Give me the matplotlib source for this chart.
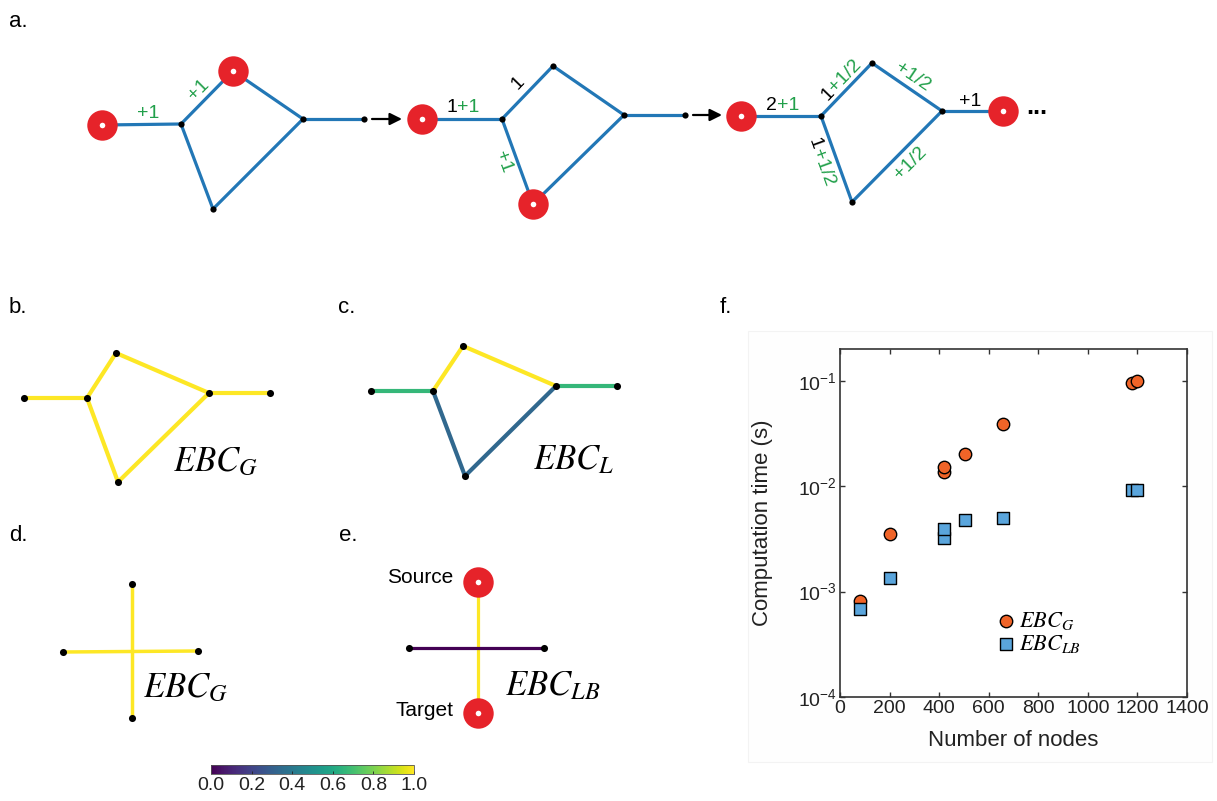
import numpy as np
import matplotlib
matplotlib.use('Agg')
import matplotlib.pyplot as plt
from matplotlib.collections import LineCollection
from matplotlib.colors import Normalize
from matplotlib.cm import ScalarMappable
from matplotlib.ticker import NullLocator, FixedLocator, LogFormatterSciNotation
from matplotlib.patches import Rectangle

plt.rcParams['font.family'] = ['Liberation Sans', 'DejaVu Sans']

W, H = 1217, 801

# ---------------- data ----------------
# panel a: three snapshots of the same 6-node graph (layout in figure pixels)
a_node_x = [[102, 181, 233, 303, 213, 364],
            [422, 502, 553, 624, 533, 685],
            [741, 821, 872, 942, 852, 1003]]
a_node_y = [[125, 124, 71, 119, 209, 119],
            [119, 119, 66, 115, 204, 115],
            [116, 116, 63, 111, 202, 111]]
a_edges = [(0, 1), (1, 2), (2, 3), (1, 4), (4, 3), (3, 5)]
a_red = [[0, 2], [0, 4], [0, 5]]
# edge labels: x, y, black part, green part, rotation (deg)
a_labels = [
    (148, 114, '', '+1', 0),
    (199, 90, '', '+1', 45),
    (457, 108, '1', '+1', 0),
    (518, 83, '1', '', 46),
    (503, 162, '', '+1', -70),
    (777, 105, '2', '+1', 0),
    (832, 90, '1', '+1/2', 46),
    (913, 77, '', '+1/2', -34),
    (816, 149, '1', '+1/2', -70),
    (910, 163, '', '+1/2', 45),
    (970, 102, '+1', '', 0),
]
a_arrows = [(372, 402, 119), (693, 722, 115)]

# panel b / c: same graph, EBC_G and EBC_L values
bc_edges = [(0, 1), (1, 2), (2, 3), (3, 4), (1, 5), (5, 3)]
b_node_x = [24, 87, 116, 209, 270, 118]
b_node_y = [398, 398, 353, 393, 393, 482]
b_values = [1, 1, 1, 1, 1, 1]
c_node_x = [371, 433, 463, 556, 617, 465]
c_node_y = [391, 391, 346, 386, 386, 476]
c_values = [2/3, 1, 1, 2/3, 1/3, 1/3]

# panel d / e: two crossing edges
de_edges = [(0, 1), (2, 3)]
d_node_x = [132, 132, 63, 198]
d_node_y = [584, 718, 652, 651]
d_values = [1, 1]
e_node_x = [478, 478, 409, 544]
e_node_y = [582, 713, 648, 648]
e_values = [1, 0]
e_red = [0, 1]

# panel f: computation time
f_nodes = [81, 202, 420, 420, 504, 658, 1178, 1198]
f_time_G = [8.2e-4, 3.5e-3, 1.35e-2, 1.51e-2, 2.0e-2, 3.85e-2, 9.6e-2, 1.0e-1]
f_time_LB = [6.9e-4, 1.35e-3, 3.2e-3, 3.9e-3, 4.8e-3, 5.0e-3, 9.2e-3, 9.1e-3]
f_xticks = [0, 200, 400, 600, 800, 1000, 1200, 1400]
f_yticks = [1e-4, 1e-3, 1e-2, 1e-1]
cb_ticks = [0.0, 0.2, 0.4, 0.6, 0.8, 1.0]

# ---------------- styles ----------------
BLUE_EDGE = '#2277B6'
GREEN = '#22A04B'
RED = '#E6232A'
ORANGE = '#F06428'
LBLUE = '#5AA5DC'
cmap = plt.get_cmap('viridis')
norm = Normalize(0, 1)

fig = plt.figure(figsize=(W / 100, H / 100), dpi=100)
ax0 = fig.add_axes([0, 0, 1, 1])
ax0.set_xlim(0, W)
ax0.set_ylim(H, 0)
ax0.axis('off')

# faint frame behind panel f
ax0.add_patch(Rectangle((748, 331), 464, 431, fc='#fefefe', ec='#f3f3f3', lw=0.8, zorder=0))


def segments(xs, ys, edges):
    return [[(xs[i], ys[i]), (xs[j], ys[j])] for i, j in edges]


def red_nodes(xs, ys):
    ax0.scatter(xs, ys, s=480, c=RED, linewidths=0, zorder=4)
    ax0.scatter(xs, ys, s=16, c='white', linewidths=0, zorder=5)


# ---- panel a ----
for xs, ys, reds in zip(a_node_x, a_node_y, a_red):
    ax0.add_collection(LineCollection(segments(xs, ys, a_edges), colors=BLUE_EDGE,
                                      linewidths=2.3, zorder=2, capstyle='round'))
    blk = [k for k in range(len(xs)) if k not in reds]
    ax0.scatter([xs[k] for k in blk], [ys[k] for k in blk], s=20, c='black', zorder=3, linewidths=0)
    red_nodes([xs[k] for k in reds], [ys[k] for k in reds])

for x, y, blk, grn, rot in a_labels:
    kw = dict(va='center', rotation=rot, rotation_mode='anchor', fontsize=14)
    if blk and grn:
        ax0.text(x, y, blk, color='black', ha='right', **kw)
        ax0.text(x, y, grn, color=GREEN, ha='left', **kw)
    elif blk:
        ax0.text(x, y, blk, color='black', ha='center', **kw)
    else:
        ax0.text(x, y, grn, color=GREEN, ha='center', **kw)

for x0, x1, y in a_arrows:
    ax0.annotate('', xy=(x1, y), xytext=(x0, y),
                 arrowprops=dict(arrowstyle='-|>', color='black', lw=1.6,
                                 mutation_scale=18, shrinkA=0, shrinkB=0))
ax0.text(1026, 114, '...', fontsize=18, fontweight='bold', ha='left', va='baseline')

# ---- panels b-e ----
for xs, ys, edges, vals, lw in [(b_node_x, b_node_y, bc_edges, b_values, 3.0),
                                (c_node_x, c_node_y, bc_edges, c_values, 3.0),
                                (d_node_x, d_node_y, de_edges, d_values, 2.5),
                                (e_node_x, e_node_y, de_edges, e_values, 2.3)]:
    lc = LineCollection(segments(xs, ys, edges), cmap=cmap, norm=norm, linewidths=lw, zorder=2)
    lc.set_array(np.asarray(vals, dtype=float))
    ax0.add_collection(lc)

for xs, ys in [(b_node_x, b_node_y), (c_node_x, c_node_y), (d_node_x, d_node_y)]:
    ax0.scatter(xs, ys, s=26, c='black', zorder=3, linewidths=0)
ax0.scatter([e_node_x[k] for k in range(4) if k not in e_red],
            [e_node_y[k] for k in range(4) if k not in e_red], s=26, c='black', zorder=3, linewidths=0)
red_nodes([e_node_x[k] for k in e_red], [e_node_y[k] for k in e_red])

ax0.text(453, 583, 'Source', fontsize=15, ha='right', va='baseline')
ax0.text(453, 716, 'Target', fontsize=15, ha='right', va='baseline')

for x, y, s in [(173, 471, r'$EBC_G$'), (533, 469, r'$EBC_L$'),
                (143, 697, r'$EBC_G$'), (505, 695, r'$EBC_{LB}$')]:
    ax0.text(x, y, s, fontsize=25, ha='left', va='baseline', math_fontfamily='stix')

# panel letters
for x, y, s in [(9, 27, 'a.'), (9, 313, 'b.'), (338, 313, 'c.'),
                (9, 541, 'd.'), (339, 541, 'e.'), (720, 313, 'f.')]:
    ax0.text(x, y, s, fontsize=16, ha='left', va='baseline')

# ---- colorbar ----
cax = fig.add_axes([211 / W, 1 - 774 / H, 203 / W, 9 / H])
sm = ScalarMappable(norm=norm, cmap=cmap)
cb = fig.colorbar(sm, cax=cax, orientation='horizontal', ticks=cb_ticks, format='%.1f')
cb.ax.tick_params(direction='in', length=2.5, width=0.6, labelsize=14, pad=2, colors='#222222')
cb.outline.set_linewidth(0.6)
cb.outline.set_edgecolor('#555555')

# ---- panel f ----
ax = fig.add_axes([840 / W, 1 - 697 / H, 347 / W, 348 / H])
ax.scatter(f_nodes, f_time_G, s=80, marker='o', c=ORANGE, edgecolors='black',
           linewidths=1.0, zorder=3, label=r'$EBC_G$')
ax.scatter(f_nodes, f_time_LB, s=70, marker='s', c=LBLUE, edgecolors='black',
           linewidths=1.0, zorder=4, label=r'$EBC_{LB}$')
ax.set_yscale('log')
ax.set_xlim(0, 1400)
ax.set_ylim(1e-4, 0.2)
ax.xaxis.set_major_locator(FixedLocator(f_xticks))
ax.yaxis.set_major_locator(FixedLocator(f_yticks))
ax.yaxis.set_major_formatter(LogFormatterSciNotation())
ax.yaxis.set_minor_locator(NullLocator())
ax.xaxis.set_minor_locator(NullLocator())
ax.tick_params(direction='in', length=3.5, width=1.0, top=True, right=True,
               labelsize=14, pad=2.5, color='#333333', labelcolor='#222222')
for sp in ax.spines.values():
    sp.set_linewidth(1.2)
    sp.set_color('#333333')
ax.set_xlabel('Number of nodes', fontsize=16, labelpad=9, color='#222222')
ax.set_ylabel('Computation time (s)', fontsize=16, labelpad=18, color='#222222')

leg = ax.legend(loc='center left', bbox_to_anchor=(0.452, 0.185), frameon=False,
                fontsize=16, handlelength=0.8, handletextpad=0.2, labelspacing=0.05,
                borderaxespad=0, borderpad=0, markerscale=1.0)
for t in leg.get_texts():
    t.set_math_fontfamily('stix')

fig.savefig('out.png', dpi=100, facecolor='white')
